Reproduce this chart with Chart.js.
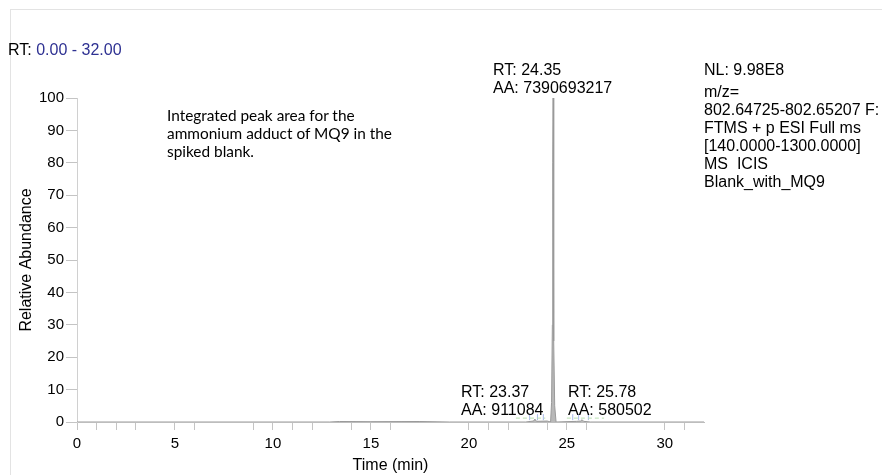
<!DOCTYPE html>
<html>
<head>
<meta charset="utf-8">
<script src="https://cdn.jsdelivr.net/npm/chart.js@4/dist/chart.umd.min.js"></script>
<style>
  body { margin: 0; background: #fff; }
  #wrap { position: relative; width: 882px; height: 475px; overflow: hidden; font-family: "Liberation Sans", Arial, sans-serif; }
  #frame { position: absolute; left: 10px; top: 9px; width: 900px; height: 500px; border-left: 1px solid #e3e3e3; border-top: 1px solid #e3e3e3; }
  canvas { position: absolute; left: 0; top: 0; }
  .t { position: absolute; font-size: 16px; line-height: 18px; color: #000; white-space: pre; }
  .blue { color: #2e3192; }
  .note { font-family: Lato, "Open Sans", sans-serif; font-size: 15.4px; line-height: 18px; }
</style>
</head>
<body>
<div id="wrap">
  <div id="frame"></div>
  <canvas id="chart" width="882" height="475"></canvas>
  <div class="t" style="left:8px; top:41px;">RT: <span class="blue">0.00 - 32.00</span></div>
  <div class="t" style="left:493px; top:61px;">RT: 24.35<br>AA: 7390693217</div>
  <div class="t" style="left:704px; top:61px;">NL: 9.98E8</div>
  <div class="t" style="left:704px; top:83px;">m/z=<br>802.64725-802.65207 F:<br>FTMS + p ESI Full ms<br>[140.0000-1300.0000]<br>MS  ICIS<br>Blank_with_MQ9</div>
  <div class="t" style="left:461px; top:383px;">RT: 23.37<br>AA: 911084</div>
  <div class="t" style="left:568px; top:383px;">RT: 25.78<br>AA: 580502</div>
  <div class="t note" style="left:167px; top:106px;">Integrated peak area for the<br>ammonium adduct of MQ9 in the<br>spiked blank.</div>
</div>
<script>
// chromatogram trace (time in min, relative abundance %)
const times = [0, 12.9, 13.4, 15.0, 17.5, 19.0, 22.9, 23.3, 23.37, 23.45, 24.0, 24.17, 24.22, 24.26, 24.28, 24.3, 24.32, 24.34, 24.38, 24.45, 25.5, 25.7, 25.78, 25.86, 26.2, 32];
const abundance = [0, 0, 0.15, 0.1, 0.15, 0, 0, 0.3, 0.9, 0.2, 0.3, 0, 6, 30, 80, 100, 78, 25, 5, 0, 0.2, 0.3, 0.7, 0.2, 0, 0];

// integration baselines (green) and peak boundary marks (blue)
const baseTimes = [22.4, 23.9, null, 25.0, 26.9];
const baseLevel = [1.2, 1.2, null, 1.2, 1.2];
const markTimes = [23.1, 23.5, 23.8, 25.3, 25.6, 26.1];
const markLevel = [1.5, 1.5, 1.5, 1.5, 1.5, 1.5];

// minor/major tick positions seen on the time axis
const timeTicks = [0, 1, 2, 3, 5, 6, 9, 10, 11, 12, 14, 15, 16, 20, 21, 22, 24, 25, 26, 30, 31];
const timeLabels = [0, 5, 10, 15, 20, 25, 30];

const points = times.map((t, i) => ({ x: t, y: abundance[i] }));
const basePoints = baseTimes.map((t, i) => ({ x: t, y: baseLevel[i] }));
const markPoints = markTimes.map((t, i) => ({ x: t, y: markLevel[i] }));

new Chart(document.getElementById("chart"), {
  type: "line",
  data: {
    datasets: [{
      data: points,
      borderColor: "#9a9a9a",
      backgroundColor: "#b8b8b8",
      borderWidth: 1,
      fill: "origin",
      pointRadius: 0,
      tension: 0
    }, {
      data: basePoints,
      borderColor: "#b8e0b0",
      borderWidth: 1,
      borderDash: [4, 3],
      pointRadius: 0,
      spanGaps: false,
      fill: false
    }, {
      data: markPoints,
      showLine: false,
      pointStyle: "line",
      rotation: 90,
      pointRadius: 3,
      borderColor: "#a8b8e8",
      borderWidth: 1
    }]
  },
  options: {
    responsive: false,
    animation: false,
    layout: { padding: { left: 0, top: 98, right: 178, bottom: 0 } },
    plugins: { legend: { display: false }, tooltip: { enabled: false } },
    scales: {
      x: {
        type: "linear",
        min: 0,
        max: 32,
        afterFit: s => { s.height = 53; },
        afterBuildTicks: s => { s.ticks = timeTicks.map(v => ({ value: v })); },
        ticks: {
          autoSkip: false,
          maxRotation: 0,
          padding: 5,
          color: "#000",
          font: { family: "Liberation Sans", size: 15 },
          callback: v => timeLabels.includes(v) ? String(v) : ""
        },
        grid: { drawOnChartArea: false, tickLength: 8, color: "#c4c4c4" },
        border: { color: "#bdbdbd" },
        title: {
          display: true,
          text: "Time (min)",
          color: "#000",
          font: { family: "Liberation Sans", size: 16 },
          padding: { top: 1, bottom: 0 }
        }
      },
      y: {
        min: 0,
        max: 100,
        afterFit: s => { s.width = 77; },
        ticks: {
          stepSize: 10,
          padding: 2,
          color: "#000",
          font: { family: "Liberation Sans", size: 15 }
        },
        grid: { drawOnChartArea: false, tickLength: 11, color: "#c4c4c4" },
        border: { color: "#d0d0d0" },
        title: {
          display: true,
          text: "Relative Abundance",
          color: "#000",
          font: { family: "Liberation Sans", size: 16 },
          padding: { top: 17, bottom: 0 }
        }
      }
    }
  }
});
</script>
</body>
</html>
